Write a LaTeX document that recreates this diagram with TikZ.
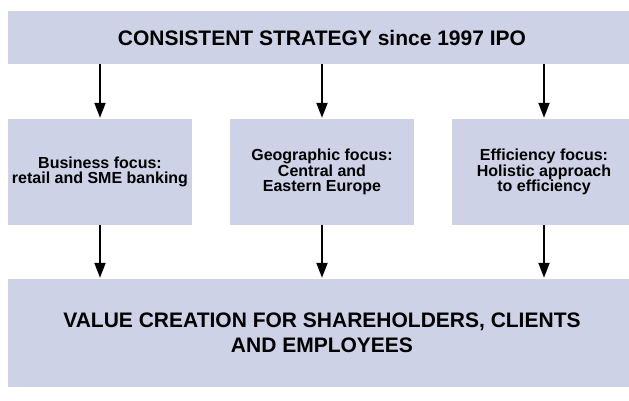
\documentclass[tikz,border=0pt]{standalone}
\usepackage{fontspec}
\setmainfont{Liberation Sans}
\usepackage{tikz}
\usetikzlibrary{arrows.meta,positioning,calc}
\definecolor{sfill}{HTML}{CDD2E6}
\tikzset{
  >={Triangle[length=15pt,width=11pt]},
  sbig/.style={fill=sfill, draw=none, inner sep=0pt, align=center,
               minimum width=628pt, font=\bfseries\fontsize{21}{25}\selectfont},
  sfocus/.style={fill=sfill, draw=none, inner sep=0pt, align=center,
                 minimum width=184pt, minimum height=106pt,
                 font=\bfseries\fontsize{16}{15.5}\selectfont},
  sarrow/.style={->, black, line width=2pt, shorten >=1pt},
}
\begin{document}
\begin{tikzpicture}[x=1pt,y=-1pt]

  % frame of the picture (boxes run past the right edge)
  \useasboundingbox (0,0) rectangle (629,401);
  \clip (0,0) rectangle (629,401);

  % strategy on top
  \node[sbig, minimum height=53pt] (strategy) at (322,37.5)
    {CONSISTENT STRATEGY since 1997 IPO};

  % the three focus areas
  \node[sfocus] (business) at (100,172)
    {Business focus:\\retail and SME banking};
  \node[sfocus] (geo) at (322,172)
    {Geographic focus:\\Central and\\Eastern Europe};
  \node[sfocus] (efficiency) at (544,172)
    {Efficiency focus:\\Holistic approach\\to efficiency};

  % value creation at the bottom
  \node[sbig, minimum height=108pt] (value) at (322,333)
    {VALUE CREATION FOR SHAREHOLDERS, CLIENTS\\AND EMPLOYEES};

  % arrows
  \foreach \f in {business,geo,efficiency} {
    \draw[sarrow] (strategy.south -| \f.north) -- (\f.north);
    \draw[sarrow] (\f.south) -- (value.north -| \f.south);
  }

\end{tikzpicture}
\end{document}
